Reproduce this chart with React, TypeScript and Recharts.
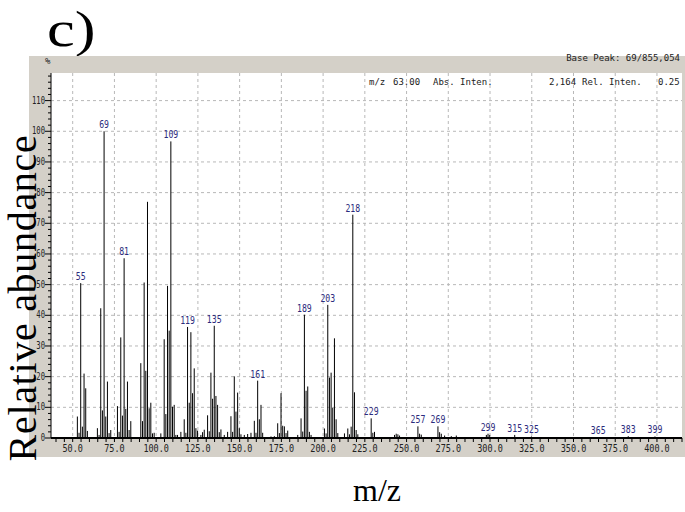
import React from 'react';
import { BarChart, Bar, XAxis, YAxis, CartesianGrid, LabelList } from 'recharts';

// m/z of each line and its relative intensity (%)
const mzValues = [
  53, 54, 55, 56, 57, 58, 59, 65, 66, 67, 68, 69, 70, 71, 72, 73,
  77, 78, 79, 80, 81, 82, 83, 84, 85, 91, 92, 93, 94, 95, 96, 97, 98, 99,
  103, 105, 106, 107, 108, 109, 110, 111, 112, 113, 115, 117, 118, 119, 120,
  121, 122, 123, 124, 125, 127, 128, 129, 131, 132, 133, 134, 135, 136, 137,
  138, 139, 141, 143, 145, 146, 147, 148, 149, 150, 151, 153, 155, 157, 159,
  160, 161, 162, 163, 164, 169, 171, 173, 174, 175, 176, 177, 178, 179, 185,
  187, 188, 189, 190, 191, 192, 193, 201, 202, 203, 204, 205, 206, 207, 208,
  209, 213, 215, 216, 217, 218, 219, 220, 221, 229, 230, 231, 243, 244, 245,
  246, 257, 258, 259, 269, 270, 271, 273, 277, 280, 298, 299, 300, 315, 325,
  365, 383, 399,
];
const relIntensity = [
  7, 1.7, 50.5, 3.7, 21, 16.2, 2.3, 3.2, 1, 42.3, 9, 100, 7, 18.4, 1.6, 2.6,
  10.4, 2, 32.8, 7.3, 58.6, 9.5, 18.4, 2.6, 5.5, 24.4, 5.5, 50.7, 21.9, 77, 9.7, 11.5, 1.5, 1.7,
  1.5, 32.2, 7.8, 49.6, 35, 96.7, 10.2, 10.8, 1, 1, 2, 6.1, 1.7, 36.2, 11.5,
  34.5, 14.6, 22.7, 3.2, 2.4, 1, 1.9, 2.7, 7.4, 2.2, 21.3, 12.8, 36.6, 13.7, 10.8,
  1.9, 2.8, 1, 2, 7.1, 2, 20.1, 8.6, 14.8, 3.2, 1.2, 1, 1.3, 1.7, 5.6,
  1.7, 18.7, 6.1, 10.8, 1.7, 0.5, 0.6, 4.8, 1.6, 14.6, 4, 3.8, 1.6, 2.4, 1,
  6.4, 2.1, 40.2, 15.4, 16.8, 2, 1, 3.1, 1.5, 43.4, 19.7, 21.3, 9.9, 32.5, 6.1,
  1.6, 1.5, 3.1, 1.2, 3.7, 72.8, 14.9, 2.6, 1.2, 6.4, 1.7, 2, 1, 1.4, 1.2,
  0.8, 3.8, 1.4, 1.1, 3.8, 1.9, 1.4, 0.8, 0.6, 0.8, 1, 1.4, 1, 1, 0.5,
  0.3, 0.6, 0.5,
];
const labeledMz = [55, 69, 81, 109, 119, 135, 161, 189, 203, 218, 229, 257, 269, 299, 315, 325, 365, 383, 399];

const xLabelTicks = [50, 75, 100, 125, 150, 175, 200, 225, 250, 275, 300, 325, 350, 375, 400];
const yLabelTicks = [0, 10, 20, 30, 40, 50, 60, 70, 80, 90, 100, 110];
const xMinorTicks = Array.from({ length: 76 }, (_, i) => 40 + i * 5);
const yMinorTicks = Array.from({ length: 60 }, (_, i) => i * 2);

const data = mzValues.map((mz, i) => ({ mz, rel: relIntensity[i] }));

const MONO = '"DejaVu Sans Mono", monospace';
const SERIF = '"Liberation Serif", "Times New Roman", serif';
const FRAME = '#d4d0c8';

const PeakLine = (p: any) => {
  const cx = p.x + p.width / 2;
  return <line x1={cx} x2={cx} y1={p.y} y2={p.y + p.height} stroke="#000" strokeWidth={1} />;
};

const PeakLabel = (p: any) => {
  if (!labeledMz.includes(p.value)) return null;
  const cx = p.x + p.width / 2;
  return (
    <text
      transform={`translate(${cx},${p.y - 3}) scale(0.82,1)`}
      textAnchor="middle"
      fontFamily={MONO}
      fontSize={10}
      fill="#2b2b7d"
    >
      {p.value}
    </text>
  );
};

const XTick = (p: any) => {
  const v = p.payload.value;
  const major = xLabelTicks.includes(v);
  return (
    <g>
      <line x1={p.x} x2={p.x} y1={p.y} y2={p.y + 4} stroke="#000" />
      {major && (
        <text
          transform={`translate(${p.x},${p.y + 14}) scale(0.85,1)`}
          textAnchor="middle"
          fontFamily={MONO}
          fontSize={10}
          fill="#222"
        >
          {v.toFixed(1)}
        </text>
      )}
    </g>
  );
};

const YTick = (p: any) => {
  const v = p.payload.value;
  const major = yLabelTicks.includes(v);
  return (
    <g>
      <line x1={p.x - (major ? 6 : 3)} x2={p.x} y1={p.y} y2={p.y} stroke="#000" />
      {major && (
        <text
          transform={`translate(${p.x - 6},${p.y + 3}) scale(0.72,1)`}
          textAnchor="end"
          fontFamily={MONO}
          fontSize={10}
          fill="#222"
        >
          {v}
        </text>
      )}
    </g>
  );
};

const small: React.CSSProperties = {
  position: 'absolute',
  fontFamily: MONO,
  fontSize: 9,
  color: '#222',
  whiteSpace: 'pre',
  lineHeight: '10px',
};

export default function App() {
  return (
    <div style={{ position: 'absolute', left: 0, top: 0, width: 685, height: 512, background: '#fff', overflow: 'hidden' }}>
      <div
        style={{
          position: 'absolute',
          left: 47,
          top: 0,
          fontFamily: SERIF,
          fontSize: 50,
          lineHeight: '58px',
          color: '#000',
          transform: 'scale(1.25,1)',
          transformOrigin: 'left center',
        }}
      >
        c)
      </div>

      <div style={{ position: 'absolute', left: 29, top: 56 }}>
        <BarChart
          width={656}
          height={401}
          data={data}
          margin={{ top: 17, right: 3, bottom: 0, left: 0 }}
          style={{ background: FRAME }}
        >
          <CartesianGrid
            fill="#fff"
            fillOpacity={1}
            stroke="#b8b8b8"
            strokeDasharray="3 3"
            horizontalValues={yLabelTicks.filter((v) => v > 0)}
            verticalValues={xLabelTicks}
          />
          <XAxis
            dataKey="mz"
            type="number"
            domain={[37, 415]}
            allowDataOverflow
            ticks={xMinorTicks}
            interval={0}
            tick={<XTick />}
            tickLine={false}
            tickSize={0}
            tickMargin={0}
            height={19}
            axisLine={{ stroke: '#000', strokeWidth: 2 }}
          />
          <XAxis
            xAxisId="top"
            orientation="top"
            type="number"
            domain={[37, 415]}
            height={0}
            tick={false}
            tickLine={false}
            axisLine={{ stroke: '#000', strokeWidth: 2 }}
          />
          <YAxis
            type="number"
            domain={[0, 119]}
            allowDataOverflow
            ticks={yMinorTicks}
            interval={0}
            tick={<YTick />}
            tickLine={false}
            tickSize={0}
            tickMargin={0}
            width={22}
            axisLine={{ stroke: '#000' }}
          />
          <YAxis
            yAxisId="right"
            orientation="right"
            width={0}
            tick={false}
            tickLine={false}
            axisLine={{ stroke: '#000' }}
          />
          <Bar dataKey="rel" barSize={1} isAnimationActive={false} shape={PeakLine}>
            <LabelList dataKey="mz" content={PeakLabel} />
          </Bar>
        </BarChart>
      </div>

      <div style={{ ...small, left: 45, top: 56 }}>%</div>
      <div style={{ ...small, right: 5, top: 53, textAlign: 'right' }}>Base Peak: 69/855,054</div>
      <div style={{ ...small, left: 369, top: 77 }}>m/z</div>
      <div style={{ ...small, left: 393, top: 77 }}>63.00</div>
      <div style={{ ...small, left: 433, top: 77 }}>Abs. Inten.</div>
      <div style={{ ...small, left: 549, top: 77 }}>2,164</div>
      <div style={{ ...small, left: 582, top: 77 }}>Rel. Inten.</div>
      <div style={{ ...small, left: 658, top: 77 }}>0.25</div>

      <div
        style={{
          position: 'absolute',
          left: 22.5 - 200,
          top: 298 - 19,
          width: 400,
          height: 38,
          lineHeight: '38px',
          textAlign: 'center',
          fontFamily: SERIF,
          fontSize: 40,
          letterSpacing: '0.7px',
          color: '#000',
          transform: 'rotate(-90deg)',
          transformOrigin: 'center',
          whiteSpace: 'nowrap',
        }}
      >
        Relative abundance
      </div>

      <div
        style={{
          position: 'absolute',
          left: 377 - 60,
          top: 470,
          width: 120,
          textAlign: 'center',
          fontFamily: SERIF,
          fontSize: 32,
          lineHeight: '40px',
          color: '#000',
        }}
      >
        m/z
      </div>
    </div>
  );
}
